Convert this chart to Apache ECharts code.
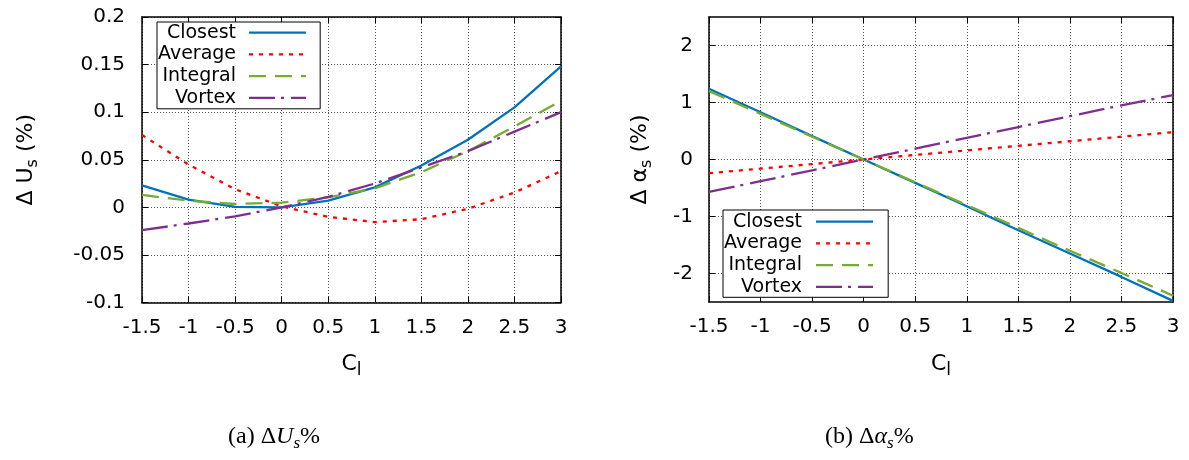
<!DOCTYPE html>
<html><head><meta charset="utf-8">
<script src="https://cdn.jsdelivr.net/npm/echarts@6/dist/echarts.min.js"></script>
<style>html,body{margin:0;padding:0;background:#fff}#c{width:1189px;height:460px}</style>
</head><body><div id="c"></div>
<script>
// ---- data ----
const xValues = [-1.5, -1, -0.5, 0, 0.5, 1, 1.5, 2, 2.5, 3];
const seriesNames = ['Closest', 'Average', 'Integral', 'Vortex'];
// (a) Delta U_s %
const usClosest  = [0.023, 0.008, 0.0005, 0, 0.007, 0.021, 0.044, 0.071, 0.105, 0.148];
const usAverage  = [0.076, 0.045, 0.019, 0.001, -0.010, -0.0155, -0.0125, -0.0015, 0.0155, 0.038];
const usIntegral = [0.013, 0.007, 0.0035, 0.005, 0.0105, 0.020, 0.037, 0.059, 0.085, 0.112];
const usVortex   = [-0.024, -0.017, -0.0095, 0, 0.011, 0.025, 0.042, 0.059, 0.0795, 0.100];
// (b) Delta alpha_s %
const alClosest  = [1.24, 0.83, 0.41, 0, -0.41, -0.82, -1.24, -1.65, -2.06, -2.48];
const alAverage  = [-0.24, -0.16, -0.08, 0, 0.08, 0.16, 0.24, 0.32, 0.40, 0.48];
const alIntegral = [1.20, 0.80, 0.40, 0, -0.40, -0.80, -1.20, -1.60, -1.99, -2.39];
const alVortex   = [-0.57, -0.38, -0.19, 0, 0.19, 0.38, 0.57, 0.76, 0.95, 1.13];
const alphaTicks = [-2, -1, 0, 1, 2];

// ---- style ----
const FONT = 'DejaVu Sans';
const COLORS = {Closest: '#0072bd', Average: '#ff0000', Integral: '#77ac30', Vortex: '#7e2f8e'};
const DASH = {Closest: 'solid', Average: [4, 6], Integral: [17, 9], Vortex: [26, 6, 3, 7]};

const chart = echarts.init(document.getElementById('c'));

const frameLine = {show: true, onZero: false, lineStyle: {color: '#000', width: 1.5}};
const tickIn = {show: true, inside: true, length: 6, lineStyle: {color: '#000', width: 1}};
const gridLine = {show: true, lineStyle: {color: '#555', type: [1, 2], width: 1}};
const tickFont = {color: '#000', fontFamily: FONT, fontSize: 20};

const xName = {
  name: '{a|C}{b|l}', nameLocation: 'middle', nameGap: 47,
  nameTextStyle: {rich: {
    a: {fontFamily: FONT, fontSize: 22, lineHeight: 30, color: '#000'},
    b: {fontFamily: FONT, fontSize: 17, lineHeight: 8, verticalAlign: 'bottom', color: '#000'}
  }}
};
function yNameRich() {
  return {rich: {
    a: {fontFamily: FONT, fontSize: 22, lineHeight: 30, color: '#000'},
    b: {fontFamily: FONT, fontSize: 16, lineHeight: 18, verticalAlign: 'bottom', color: '#000'}
  }};
}

function xAxes(gi) {
  return [
    Object.assign({type: 'value', gridIndex: gi, position: 'bottom', min: -1.5, max: 3, interval: 0.5,
      axisLine: frameLine, axisTick: tickIn, splitLine: gridLine,
      axisLabel: Object.assign({margin: 15}, tickFont)}, xName),
    {type: 'value', gridIndex: gi, position: 'top', min: -1.5, max: 3, interval: 0.5,
      axisLine: frameLine, axisTick: tickIn, axisLabel: {show: false}, splitLine: {show: false}}
  ];
}

const yAxis = [
  {type: 'value', gridIndex: 0, position: 'left', min: -0.1, max: 0.2, interval: 0.05,
    axisLine: frameLine, axisTick: tickIn, splitLine: gridLine,
    axisLabel: Object.assign({margin: 17}, tickFont),
    name: '{a|Δ U}{b|s}{a| (%)}', nameLocation: 'middle', nameRotate: 90, nameGap: 101,
    nameTextStyle: yNameRich()},
  {type: 'value', gridIndex: 0, position: 'right', min: -0.1, max: 0.2, interval: 0.05,
    axisLine: frameLine, axisTick: tickIn, axisLabel: {show: false}, splitLine: {show: false}},
  {type: 'value', gridIndex: 1, position: 'left', min: -2.5, max: 2.5, interval: 0.5,
    axisLine: frameLine,
    axisTick: Object.assign({customValues: alphaTicks}, tickIn),
    splitLine: gridLine,
    axisLabel: Object.assign({margin: 16, customValues: alphaTicks}, tickFont),
    name: '{a|Δ α}{b|s}{a| (%)}', nameLocation: 'middle', nameRotate: 90, nameGap: 54,
    nameTextStyle: yNameRich()},
  {type: 'value', gridIndex: 1, position: 'right', min: -2.5, max: 2.5, interval: 0.5,
    axisLine: frameLine, axisTick: Object.assign({customValues: alphaTicks}, tickIn),
    axisLabel: {show: false}, splitLine: {show: false}}
];

function mk(name, arr, xi, yi) {
  return {
    type: 'line', name: name, xAxisIndex: xi, yAxisIndex: yi,
    data: xValues.map((x, i) => [x, arr[i]]),
    symbol: 'none', smooth: false, animation: false,
    lineStyle: {color: COLORS[name], width: 2.3, type: DASH[name]},
    itemStyle: {color: COLORS[name]}
  };
}

const series = [
  mk('Closest', usClosest, 0, 0), mk('Average', usAverage, 0, 0),
  mk('Integral', usIntegral, 0, 0), mk('Vortex', usVortex, 0, 0),
  mk('Closest', alClosest, 2, 2), mk('Average', alAverage, 2, 2),
  mk('Integral', alIntegral, 2, 2), mk('Vortex', alVortex, 2, 2)
];

function legend(left, top, padding, textPadRight) {
  return {
    data: seriesNames, orient: 'vertical', left: left, top: top, align: 'right',
    itemWidth: 57, itemHeight: 14, itemGap: 1.7, padding: padding,
    borderColor: '#000', borderWidth: 1, backgroundColor: '#fff', borderRadius: 0,
    selectedMode: false,
    itemStyle: {opacity: 0, color: 'rgba(0,0,0,0)', borderWidth: 0},
    lineStyle: {width: 2.3},
    textStyle: {fontFamily: FONT, fontSize: 19, color: '#000', lineHeight: 20, padding: [0, textPadRight, 0, 0]}
  };
}

const capRich = {
  n: {fontFamily: 'Liberation Serif', fontSize: 24, lineHeight: 30, fill: '#000'},
  i: {fontFamily: 'Liberation Serif', fontStyle: 'italic', fontSize: 24, lineHeight: 30, fill: '#000'},
  s: {fontFamily: 'Liberation Serif', fontStyle: 'italic', fontSize: 17, fill: '#000', verticalAlign: 'bottom', lineHeight: 16}
};

chart.setOption({
  animation: false,
  backgroundColor: '#fff',
  grid: [
    {left: 142, top: 17, width: 419, height: 285.5},
    {left: 709, top: 17, width: 464, height: 285}
  ],
  xAxis: xAxes(0).concat(xAxes(1)),
  yAxis: yAxis,
  series: series.map((s, k) => { if (k >= 4) { s.xAxisIndex = 2; } return s; }),
  legend: [legend(157, 22, [0.7, 13, 1, 1], 8), legend(723, 210, [1.7, 14, 0.5, 1], 9)],
  graphic: [
    {type: 'text', left: 228, top: 425, style: {text: '{n|(a) Δ}{i|U}{s|s}{n|%}', rich: capRich}},
    {type: 'text', left: 825, top: 425, style: {text: '{n|(b) Δ}{i|α}{s|s}{n|%}', rich: capRich}}
  ]
});
</script></body></html>
